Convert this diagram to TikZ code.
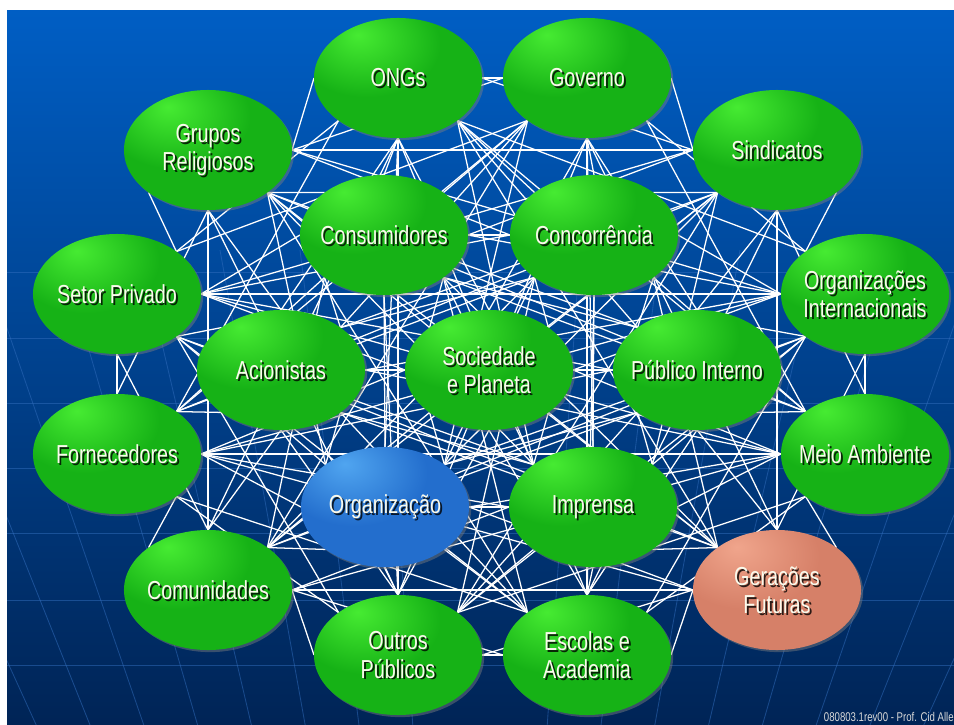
\documentclass[tikz,border=0pt]{standalone}
\usepackage{fontspec}
\newfontfamily\stakefont{Liberation Sans}[FakeStretch=0.76]
\usetikzlibrary{calc,shapes.geometric,shadows}

\definecolor{bgtop}{RGB}{0,94,196}
\definecolor{bgmid}{RGB}{0,70,150}
\definecolor{bgbot}{RGB}{0,36,86}
\definecolor{globeline}{RGB}{50,110,190}
\definecolor{labelwhite}{RGB}{250,250,236}
\definecolor{greenhi}{RGB}{70,235,50}
\definecolor{greenmid}{RGB}{22,178,22}
\definecolor{greenlo}{RGB}{0,118,0}
\definecolor{bluehi}{RGB}{80,165,240}
\definecolor{bluemid}{RGB}{35,110,205}
\definecolor{bluelo}{RGB}{15,70,150}
\definecolor{salmonhi}{RGB}{240,165,140}
\definecolor{salmonmid}{RGB}{214,128,104}
\definecolor{salmonlo}{RGB}{160,82,62}

\pgfdeclareradialshading{greenglow}{\pgfpoint{-12bp}{18bp}}{color(0bp)=(greenhi); color(22bp)=(greenmid); color(50bp)=(greenmid); color(78bp)=(greenlo); color(100bp)=(greenlo)}
\pgfdeclareradialshading{blueglow}{\pgfpoint{-12bp}{18bp}}{color(0bp)=(bluehi); color(22bp)=(bluemid); color(50bp)=(bluemid); color(78bp)=(bluelo); color(100bp)=(bluelo)}
\pgfdeclareradialshading{salmonglow}{\pgfpoint{-12bp}{18bp}}{color(0bp)=(salmonhi); color(22bp)=(salmonmid); color(50bp)=(salmonmid); color(78bp)=(salmonlo); color(100bp)=(salmonlo)}

\pgfdeclarelayer{bg}
\pgfdeclarelayer{links}
\pgfsetlayers{bg,links,main}

% one stakeholder: name, position, colour style, label
\newcommand\stake[4]{%
  \node[stake, #3] (#1) at (#2) {};
  \node[lbl shadow] (#1-s) at ([xshift=1.4pt, yshift=-1.4pt]#1.center) {#4};
  \node[lbl] (#1-t) at (#1.center) {#4};
}
\def\stakelist{ong,gov,grp,sind,cons,conc,setor,orgint,acion,soc,pubint,forn,meio,org,impr,comun,ger,outros,escolas}

\begin{document}
\begin{tikzpicture}[x=0.025cm, y=-0.025cm,
  stake/.style={ellipse, minimum width=4.2cm, minimum height=3cm, inner sep=0pt,
    drop shadow={shadow xshift=1.5pt, shadow yshift=-1.5pt, opacity=0.45}},
  green ball/.style={shade, shading=greenglow},
  blue ball/.style={shade, shading=blueglow},
  salmon ball/.style={shade, shading=salmonglow},
  lbl/.style={align=center, inner sep=0pt, text=labelwhite,
    font=\stakefont\fontsize{18.5}{20}\selectfont},
  lbl shadow/.style={lbl, text=black, opacity=0.8},
  link/.style={white, line width=0.9pt},
  globe/.style={globeline, line width=0.6pt, opacity=0.5}]

  \useasboundingbox (0,0) rectangle (954,724);

  \begin{pgfonlayer}{bg}
    \fill[white] (0,0) rectangle (954,724);
    \shade[top color=bgtop, middle color=bgmid, bottom color=bgbot] (7,10) rectangle (954,724);
    \begin{scope}
      \clip (7,250) rectangle (954,724);
      \foreach \y in {272,338,403,468,533,600,665}
        \draw[globe] (7,\y) -- (954,\y);
      \foreach \x in {-260,-180,-100,-20,60,140,220,300,380,580,660,740,820,900,980,1060,1140,1220}
        \draw[globe] (\x,250) -- ($(\x,250)!0.33!(480,1700)$);
    \end{scope}
  \end{pgfonlayer}

  \stake{ong}{398,78}{green ball}{ONGs}
  \stake{gov}{587,78}{green ball}{Governo}
  \stake{grp}{208,150}{green ball}{Grupos\\Religiosos}
  \stake{sind}{777,150}{green ball}{Sindicatos}
  \stake{cons}{384,235}{green ball}{Consumidores}
  \stake{conc}{594,235}{green ball}{Concorrência}
  \stake{setor}{117,294}{green ball}{Setor Privado}
  \stake{orgint}{865,294}{green ball}{Organizações\\Internacionais}
  \stake{acion}{281,370}{green ball}{Acionistas}
  \stake{soc}{489,370}{green ball}{Sociedade\\e Planeta}
  \stake{pubint}{697,370}{green ball}{Público Interno}
  \stake{forn}{117,454}{green ball}{Fornecedores}
  \stake{meio}{865,454}{green ball}{Meio Ambiente}
  \stake{org}{385,507}{blue ball}{Organização}
  \stake{impr}{593,507}{green ball}{Imprensa}
  \stake{comun}{208,590}{green ball}{Comunidades}
  \stake{ger}{777,590}{salmon ball}{Gerações\\Futuras}
  \stake{outros}{398,655}{green ball}{Outros\\Públicos}
  \stake{escolas}{587,655}{green ball}{Escolas e\\Academia}

  % every stakeholder linked to every other one
  \begin{pgfonlayer}{links}
    \foreach \a [count=\i] in \stakelist {
      \foreach \b [count=\j] in \stakelist {
        \ifnum\j>\i
          \draw[link] let \p1=(\a), \p2=(\b),
            \n1={atan2(\y2-\y1,\x2-\x1)}, \n2={45*round(\n1/45)}, \n3={\n2+180} in
            ($(\a)+(\n2:2.1cm and 1.5cm)$) -- ($(\b)+(\n3:2.1cm and 1.5cm)$);
        \fi
      }
    }
  \end{pgfonlayer}

  \node[anchor=base east, inner sep=0pt, text=black!15, font=\stakefont\fontsize{9}{10}\selectfont]
    (credit) at (954,721) {080803.1rev00 - Prof. Cid Alle};
\end{tikzpicture}
\end{document}
